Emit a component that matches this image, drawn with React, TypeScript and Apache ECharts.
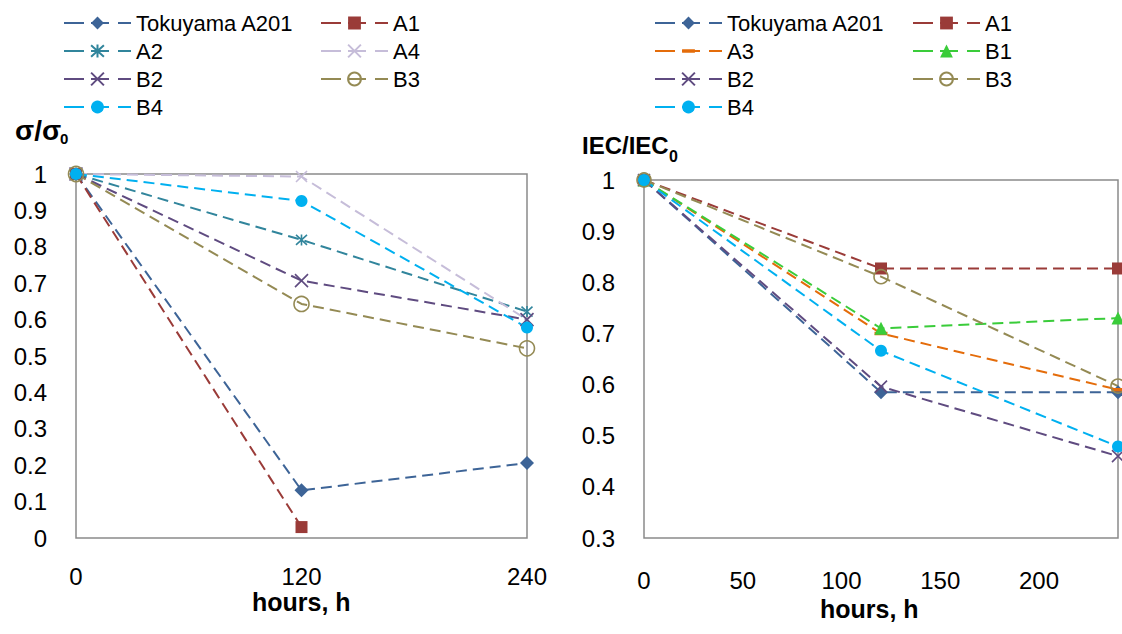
import React, { useEffect, useRef } from "react";
import * as echarts from "echarts";

// ---------- data ----------
const hoursLeft = [0, 120, 240];
const hoursRight = [0, 120, 240];

// sigma / sigma0 (left chart)
const sigTokuyama = [1, 0.131, 0.206];
const sigA1 = [1, 0.03, null];
const sigA2 = [1, 0.819, 0.622];
const sigA4 = [1, 0.993, 0.6];
const sigB2 = [1, 0.707, 0.6];
const sigB3 = [1, 0.643, 0.521];
const sigB4 = [1, 0.926, 0.578];

// IEC / IEC0 (right chart)
const iecTokuyama = [1, 0.585, 0.585];
const iecA1 = [1, 0.827, 0.827];
const iecA3 = [1, 0.7, 0.59];
const iecB1 = [1, 0.71, 0.73];
const iecB2 = [1, 0.596, 0.46];
const iecB3 = [1, 0.811, 0.597];
const iecB4 = [1, 0.666, 0.479];

const leftTicks = { min: 0, max: 240, interval: 120 };
const rightTicks = { min: 0, max: 240, interval: 50 };

// ---------- styles ----------
const FONT = '"Liberation Sans", Arial, sans-serif';
const C = {
  tok: "#3D6497",
  a1: "#9A3B38",
  a2: "#31859C",
  a3: "#E46C0A",
  a4: "#C6BDD9",
  b1: "#3ACC3A",
  b2: "#5F4B80",
  b3: "#948A54",
  b4: "#00B0F0",
};
const SYM_X = "path://M0,0L10,10M10,0L0,10";
const SYM_STAR = "path://M5,-0.5L5,10.5M0,0L10,10M10,0L0,10";
const SYM_DASH = "path://M0,0L0.01,0ZM12,12L12.01,12ZM0,4.4L12,4.4L12,7.6L0,7.6Z";

const zip = (xs: number[], ys: (number | null)[]) =>
  xs.map((x, i) => [x, ys[i]]).filter((p) => p[1] !== null);

type Mk = {
  symbol: string;
  size: number;
  stroke?: boolean;
  hollow?: boolean;
};

function series(
  name: string,
  idx: number,
  xs: number[],
  ys: (number | null)[],
  color: string,
  mk: Mk
) {
  return {
    type: "line",
    name,
    xAxisIndex: idx,
    yAxisIndex: idx,
    data: zip(xs, ys),
    symbol: mk.symbol,
    symbolSize: mk.size,
    showSymbol: true,
    lineStyle: { color, width: 2, type: [11, 6] },
    itemStyle: mk.hollow
      ? { color: "rgba(255,255,255,0)", borderColor: color, borderWidth: 1.6 }
      : mk.stroke
      ? { color, borderColor: color, borderWidth: 1.6 }
      : { color, borderWidth: 0 },
    emphasis: { disabled: true },
    z: 2,
  };
}

function legend(names: string[], left: number, top: number) {
  return {
    orient: "vertical",
    left,
    top,
    padding: 0,
    itemWidth: 67,
    itemHeight: 16,
    itemGap: 4,
    selectedMode: false,
    data: names,
    lineStyle: { type: [20, 7, 18, 9, 13], width: 2 },
    textStyle: { fontSize: 22, fontFamily: FONT, color: "#000", lineHeight: 24 },
  };
}

const axisLabel = (margin: number) => ({
  fontSize: 24,
  fontFamily: FONT,
  color: "#000",
  margin,
});

const option = {
  animation: false,
  backgroundColor: "#fff",
  textStyle: { fontFamily: FONT },
  legend: [
    legend(["Tokuyama A201", "A2", "B2", "B4"], 63, 11),
    legend(["A1", "A4", "B3"], 320, 11),
    legend(["Tokuyama A201", "A3", "B2", "B4"], 654, 11),
    legend(["A1", "B1", "B3"], 912, 11),
  ],
  grid: [
    { left: 76, top: 174, width: 451, height: 364, show: true, borderColor: "#8A8A8A", borderWidth: 1.5 },
    { left: 644, top: 180, width: 474, height: 358, show: true, borderColor: "#8A8A8A", borderWidth: 1.5 },
  ],
  xAxis: [
    {
      type: "value",
      gridIndex: 0,
      ...leftTicks,
      axisLine: { show: false },
      axisTick: { show: false },
      splitLine: { show: false },
      axisLabel: axisLabel(26),
    },
    {
      type: "value",
      gridIndex: 1,
      ...rightTicks,
      axisLine: { show: false },
      axisTick: { show: false },
      splitLine: { show: false },
      axisLabel: { ...axisLabel(30), showMaxLabel: false },
    },
  ],
  yAxis: [
    {
      type: "value",
      gridIndex: 0,
      min: 0,
      max: 1,
      interval: 0.1,
      axisLine: { show: false },
      axisTick: { show: false },
      splitLine: { show: false },
      axisLabel: { ...axisLabel(29), formatter: (v: number) => String(+v.toFixed(1)) },
    },
    {
      type: "value",
      gridIndex: 1,
      min: 0.3,
      max: 1,
      interval: 0.1,
      axisLine: { show: false },
      axisTick: { show: false },
      splitLine: { show: false },
      axisLabel: { ...axisLabel(29), formatter: (v: number) => String(+v.toFixed(1)) },
    },
  ],
  series: [
    series("Tokuyama A201", 0, hoursLeft, sigTokuyama, C.tok, { symbol: "diamond", size: 14 }),
    series("A1", 0, hoursLeft, sigA1, C.a1, { symbol: "rect", size: 12 }),
    series("A2", 0, hoursLeft, sigA2, C.a2, { symbol: SYM_STAR, size: 11, stroke: true }),
    series("A4", 0, hoursLeft, sigA4, C.a4, { symbol: SYM_X, size: 11, stroke: true }),
    series("B2", 0, hoursLeft, sigB2, C.b2, { symbol: SYM_X, size: 13, stroke: true }),
    series("B3", 0, hoursLeft, sigB3, C.b3, { symbol: "circle", size: 15, hollow: true }),
    series("B4", 0, hoursLeft, sigB4, C.b4, { symbol: "circle", size: 12 }),

    series("Tokuyama A201", 1, hoursRight, iecTokuyama, C.tok, { symbol: "diamond", size: 14 }),
    series("A1", 1, hoursRight, iecA1, C.a1, { symbol: "rect", size: 12 }),
    series("A3", 1, hoursRight, iecA3, C.a3, { symbol: SYM_DASH, size: 13 }),
    series("B1", 1, hoursRight, iecB1, C.b1, { symbol: "triangle", size: 13 }),
    series("B2", 1, hoursRight, iecB2, C.b2, { symbol: SYM_X, size: 12, stroke: true }),
    series("B3", 1, hoursRight, iecB3, C.b3, { symbol: "circle", size: 14, hollow: true }),
    series("B4", 1, hoursRight, iecB4, C.b4, { symbol: "circle", size: 12 }),
  ],
  graphic: [
    { type: "text", left: 15, top: 116, style: { text: "σ/σ", font: `bold 28px ${FONT}`, fill: "#000" } },
    { type: "text", left: 60, top: 131, style: { text: "0", font: `bold 15px ${FONT}`, fill: "#000" } },
    { type: "text", left: 582, top: 133, style: { text: "IEC/IEC", font: `bold 24px ${FONT}`, fill: "#000" } },
    { type: "text", left: 669, top: 148, style: { text: "0", font: `bold 16px ${FONT}`, fill: "#000" } },
    { type: "text", left: 252, top: 589, style: { text: "hours, h", font: `bold 25px ${FONT}`, fill: "#000" } },
    { type: "text", left: 820, top: 596, style: { text: "hours, h", font: `bold 25px ${FONT}`, fill: "#000" } },
  ],
};

export default function App() {
  const ref = useRef<HTMLDivElement>(null);
  useEffect(() => {
    if (!ref.current) return;
    const chart = echarts.init(ref.current, null, { renderer: "svg" });
    chart.setOption(option as any);
    return () => chart.dispose();
  }, []);
  return (
    <div
      ref={ref}
      style={{ position: "fixed", left: 0, top: 0, width: 1122, height: 634, background: "#fff" }}
    />
  );
}
